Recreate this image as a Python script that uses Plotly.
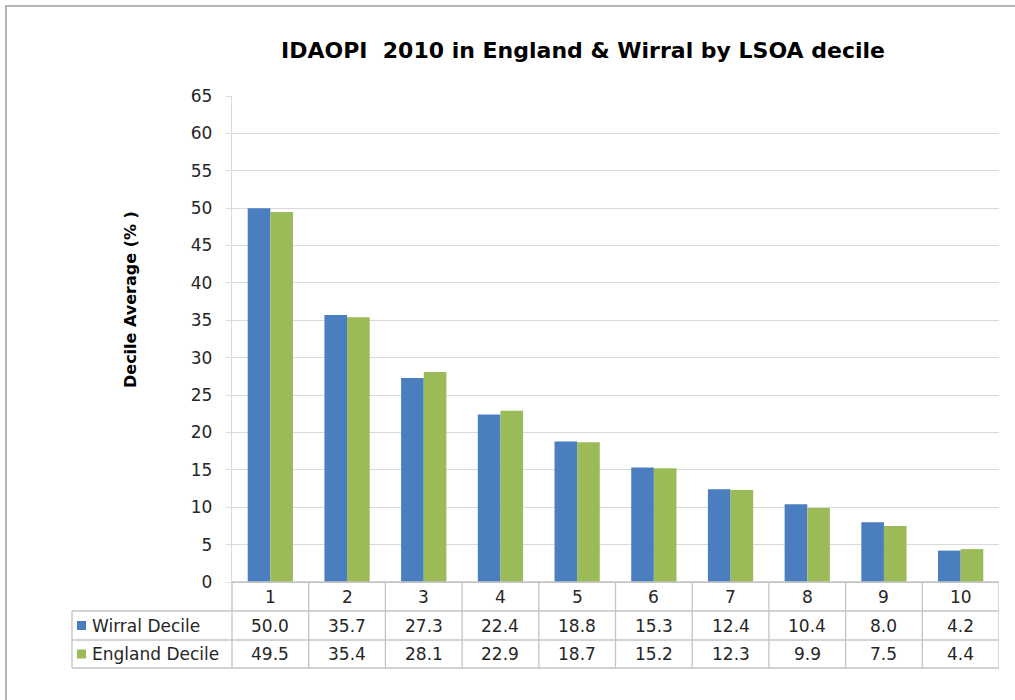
import plotly.graph_objects as go

# Decile data (IDAOPI 2010)
deciles = [1, 2, 3, 4, 5, 6, 7, 8, 9, 10]
wirral = [50.0, 35.7, 27.3, 22.4, 18.8, 15.3, 12.4, 10.4, 8.0, 4.2]
england = [49.5, 35.4, 28.1, 22.9, 18.7, 15.2, 12.3, 9.9, 7.5, 4.4]
series_names = ["Wirral Decile", "England Decile"]
y_ticks = list(range(0, 70, 5))

BLUE = "#4A7EBF"
GREEN = "#9BBB59"
GRID = "#D9D9D9"
TABLE_LINE = "#C4C4C4"
TEXT = "#262626"
FONT = "DejaVu Sans, Liberation Sans, Arial, sans-serif"

W, H = 1015, 700
L, R, T, B = 232, 16, 96, 118
PW, PH = W - L - R, H - T - B


def px_x(px):
    return (px - L) / PW


def px_y(py):
    return (H - B - py) / PH


fig = go.Figure()
fig.add_trace(go.Bar(x=deciles, y=wirral, name=series_names[0],
                     marker=dict(color=BLUE, line=dict(width=0))))
fig.add_trace(go.Bar(x=deciles, y=england, name=series_names[1],
                     marker=dict(color=GREEN, line=dict(width=0))))

shapes = []
annotations = []

# data table rows under the x axis
row_edges = [582, 611, 640, 668]
y_edges = [px_y(v) for v in row_edges]
left_edge = px_x(72)
rule = dict(color=TABLE_LINE, width=1.3)

# horizontal rules
shapes.append(dict(type="line", xref="paper", yref="paper", x0=0, x1=1,
                   y0=y_edges[0], y1=y_edges[0], line=rule))
for ye in y_edges[1:]:
    shapes.append(dict(type="line", xref="paper", yref="paper", x0=left_edge, x1=1,
                       y0=ye, y1=ye, line=rule))
# vertical rules
shapes.append(dict(type="line", xref="paper", yref="paper", x0=left_edge, x1=left_edge,
                   y0=y_edges[1], y1=y_edges[3], line=rule))
shapes.append(dict(type="line", xref="paper", yref="paper", x0=0, x1=0,
                   y0=y_edges[0], y1=y_edges[3], line=rule))
for d in deciles:
    shapes.append(dict(type="line", xref="x", yref="paper", x0=d + 0.5, x1=d + 0.5,
                       y0=y_edges[0], y1=y_edges[3], line=rule))

cell_font = dict(size=17, color=TEXT, family=FONT)
row_mid = [(y_edges[i] + y_edges[i + 1]) / 2 for i in range(3)]
for d in deciles:
    annotations.append(dict(x=d, y=row_mid[0], xref="x", yref="paper", text=str(d),
                            xanchor="center", yanchor="middle",
                            showarrow=False, font=cell_font))
for row, vals in ((1, wirral), (2, england)):
    for d, v in zip(deciles, vals):
        annotations.append(dict(x=d, y=row_mid[row], xref="x", yref="paper", text=f"{v:.1f}",
                                xanchor="center", yanchor="middle",
                                showarrow=False, font=cell_font))

# series labels with colour keys
for row, name, col in ((1, series_names[0], BLUE), (2, series_names[1], GREEN)):
    cy = (row_edges[row] + row_edges[row + 1]) / 2
    shapes.append(dict(type="rect", xref="paper", yref="paper",
                       x0=px_x(77), x1=px_x(86), y0=px_y(cy - 4.5), y1=px_y(cy + 4.5),
                       fillcolor=col, line=dict(width=0)))
    annotations.append(dict(x=px_x(90), y=row_mid[row], xref="paper", yref="paper", text=name,
                            xanchor="left", yanchor="middle", showarrow=False, font=cell_font))

# y axis title
annotations.append(dict(x=px_x(130), y=px_y(300), xref="paper", yref="paper",
                        text="<b>Decile Average (% )</b>", textangle=-90, showarrow=False,
                        xanchor="center", yanchor="middle",
                        font=dict(size=16, color="#000000", family=FONT)))

# chart title
annotations.append(dict(x=px_x(583), y=px_y(50), xref="paper", yref="paper",
                        text="<b>IDAOPI  2010 in England &amp; Wirral by LSOA decile</b>",
                        xanchor="center", yanchor="middle",
                        showarrow=False, font=dict(size=22, color="#000000", family=FONT)))

# outer frame
shapes.append(dict(type="rect", xref="paper", yref="paper",
                   x0=px_x(6), x1=px_x(1030), y0=px_y(6), y1=px_y(715),
                   line=dict(color="#B4B4B4", width=2), fillcolor="rgba(0,0,0,0)", layer="above"))

fig.update_layout(
    width=W, height=H, autosize=False,
    margin=dict(l=L, r=R, t=T, b=B),
    paper_bgcolor="white", plot_bgcolor="white",
    barmode="group", bargap=0.41, bargroupgap=0,
    showlegend=False,
    font=dict(family=FONT, color=TEXT),
    shapes=shapes, annotations=annotations,
    xaxis=dict(range=[0.5, 10.5], showticklabels=False, showgrid=False, zeroline=False,
               showline=False, ticks=""),
    yaxis=dict(range=[0, 65], tickvals=y_ticks, showgrid=True, gridcolor=GRID, gridwidth=1.3,
               showline=True, linecolor=GRID, linewidth=1.3, zeroline=True,
               zerolinecolor=TABLE_LINE, zerolinewidth=1.3,
               ticks="outside", ticklen=5, tickcolor=GRID, tickwidth=1.3,
               ticklabelstandoff=10,
               tickfont=dict(size=17, color=TEXT, family=FONT)),
)

fig.write_html("out.html")
